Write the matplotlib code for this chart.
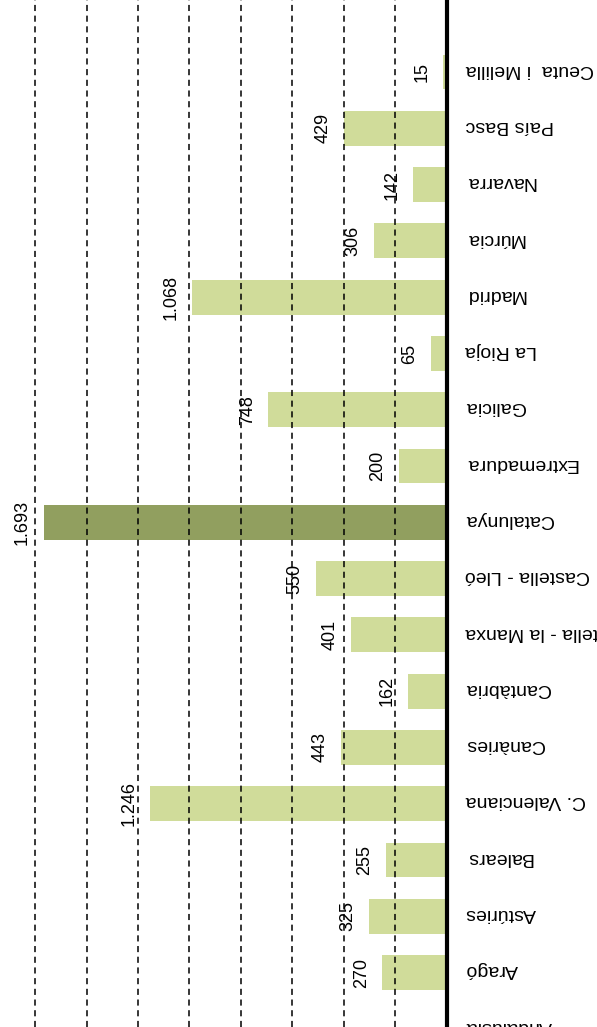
import numpy as np
import matplotlib
matplotlib.use("Agg")
from matplotlib import pyplot as plt

# comunitats, de baix a dalt
categories = ["Andalusia", "Aragó", "Astúries", "Balears", "C. Valenciana",
              "Canàries", "Cantàbria", "Castella - la Manxa", "Castella - Lleó",
              "Catalunya", "Extremadura", "Galicia", "La Rioja", "Madrid",
              "Múrcia", "Navarra", "País Basc", "Ceuta  i Melilla"]
values = [np.nan, 270, 325, 255, 1246, 443, 162, 401, 550, 1693, 200, 748,
          65, 1068, 306, 142, 429, 15]
highlight = "Catalunya"

LIGHT = "#D0DC9A"
DARK = "#919F5F"
GRID_STEP = 216
X_MAX = 1876

plt.rcParams["font.family"] = ["Liberation Sans", "DejaVu Sans"]

fig = plt.figure(figsize=(5.97, 10.27), dpi=100)
ax = fig.add_axes([0, 0, 446.5 / 597, 1])

y = np.arange(len(categories))
colors = [DARK if c == highlight else LIGHT for c in categories]
vals = np.array(values, dtype=float)
mask = ~np.isnan(vals)
ax.barh(y[mask], vals[mask], height=0.62, color=np.array(colors)[mask], zorder=1)

# línies de referència discontínues
for gx in np.arange(GRID_STEP, X_MAX, GRID_STEP):
    ax.axvline(gx, color="black", lw=1.1, ls=(0, (4, 3)), zorder=2)

ax.set_xlim(X_MAX, 0)
ax.set_ylim(0.032, 18.28)
for s in ["top", "bottom", "left"]:
    ax.spines[s].set_visible(False)
ax.spines["right"].set_linewidth(3)
ax.spines["right"].set_zorder(3)
ax.set_xticks([])
ax.set_yticks([])

def fmt(v):
    return f"{int(v):,}".replace(",", ".")

for yi, v in zip(y, vals):
    if np.isnan(v):
        continue
    ax.annotate(fmt(v), (v, yi), xytext=(-9, 0), textcoords="offset points",
                rotation=90, ha="right", va="center", fontsize=13, zorder=4)

for yi, c in zip(y, categories):
    ax.annotate(c, (0, yi), xytext=(13.5, 2), textcoords="offset points",
                rotation=180, ha="left", va="center", fontsize=14,
                annotation_clip=False)

fig.savefig("out.png", dpi=100)
